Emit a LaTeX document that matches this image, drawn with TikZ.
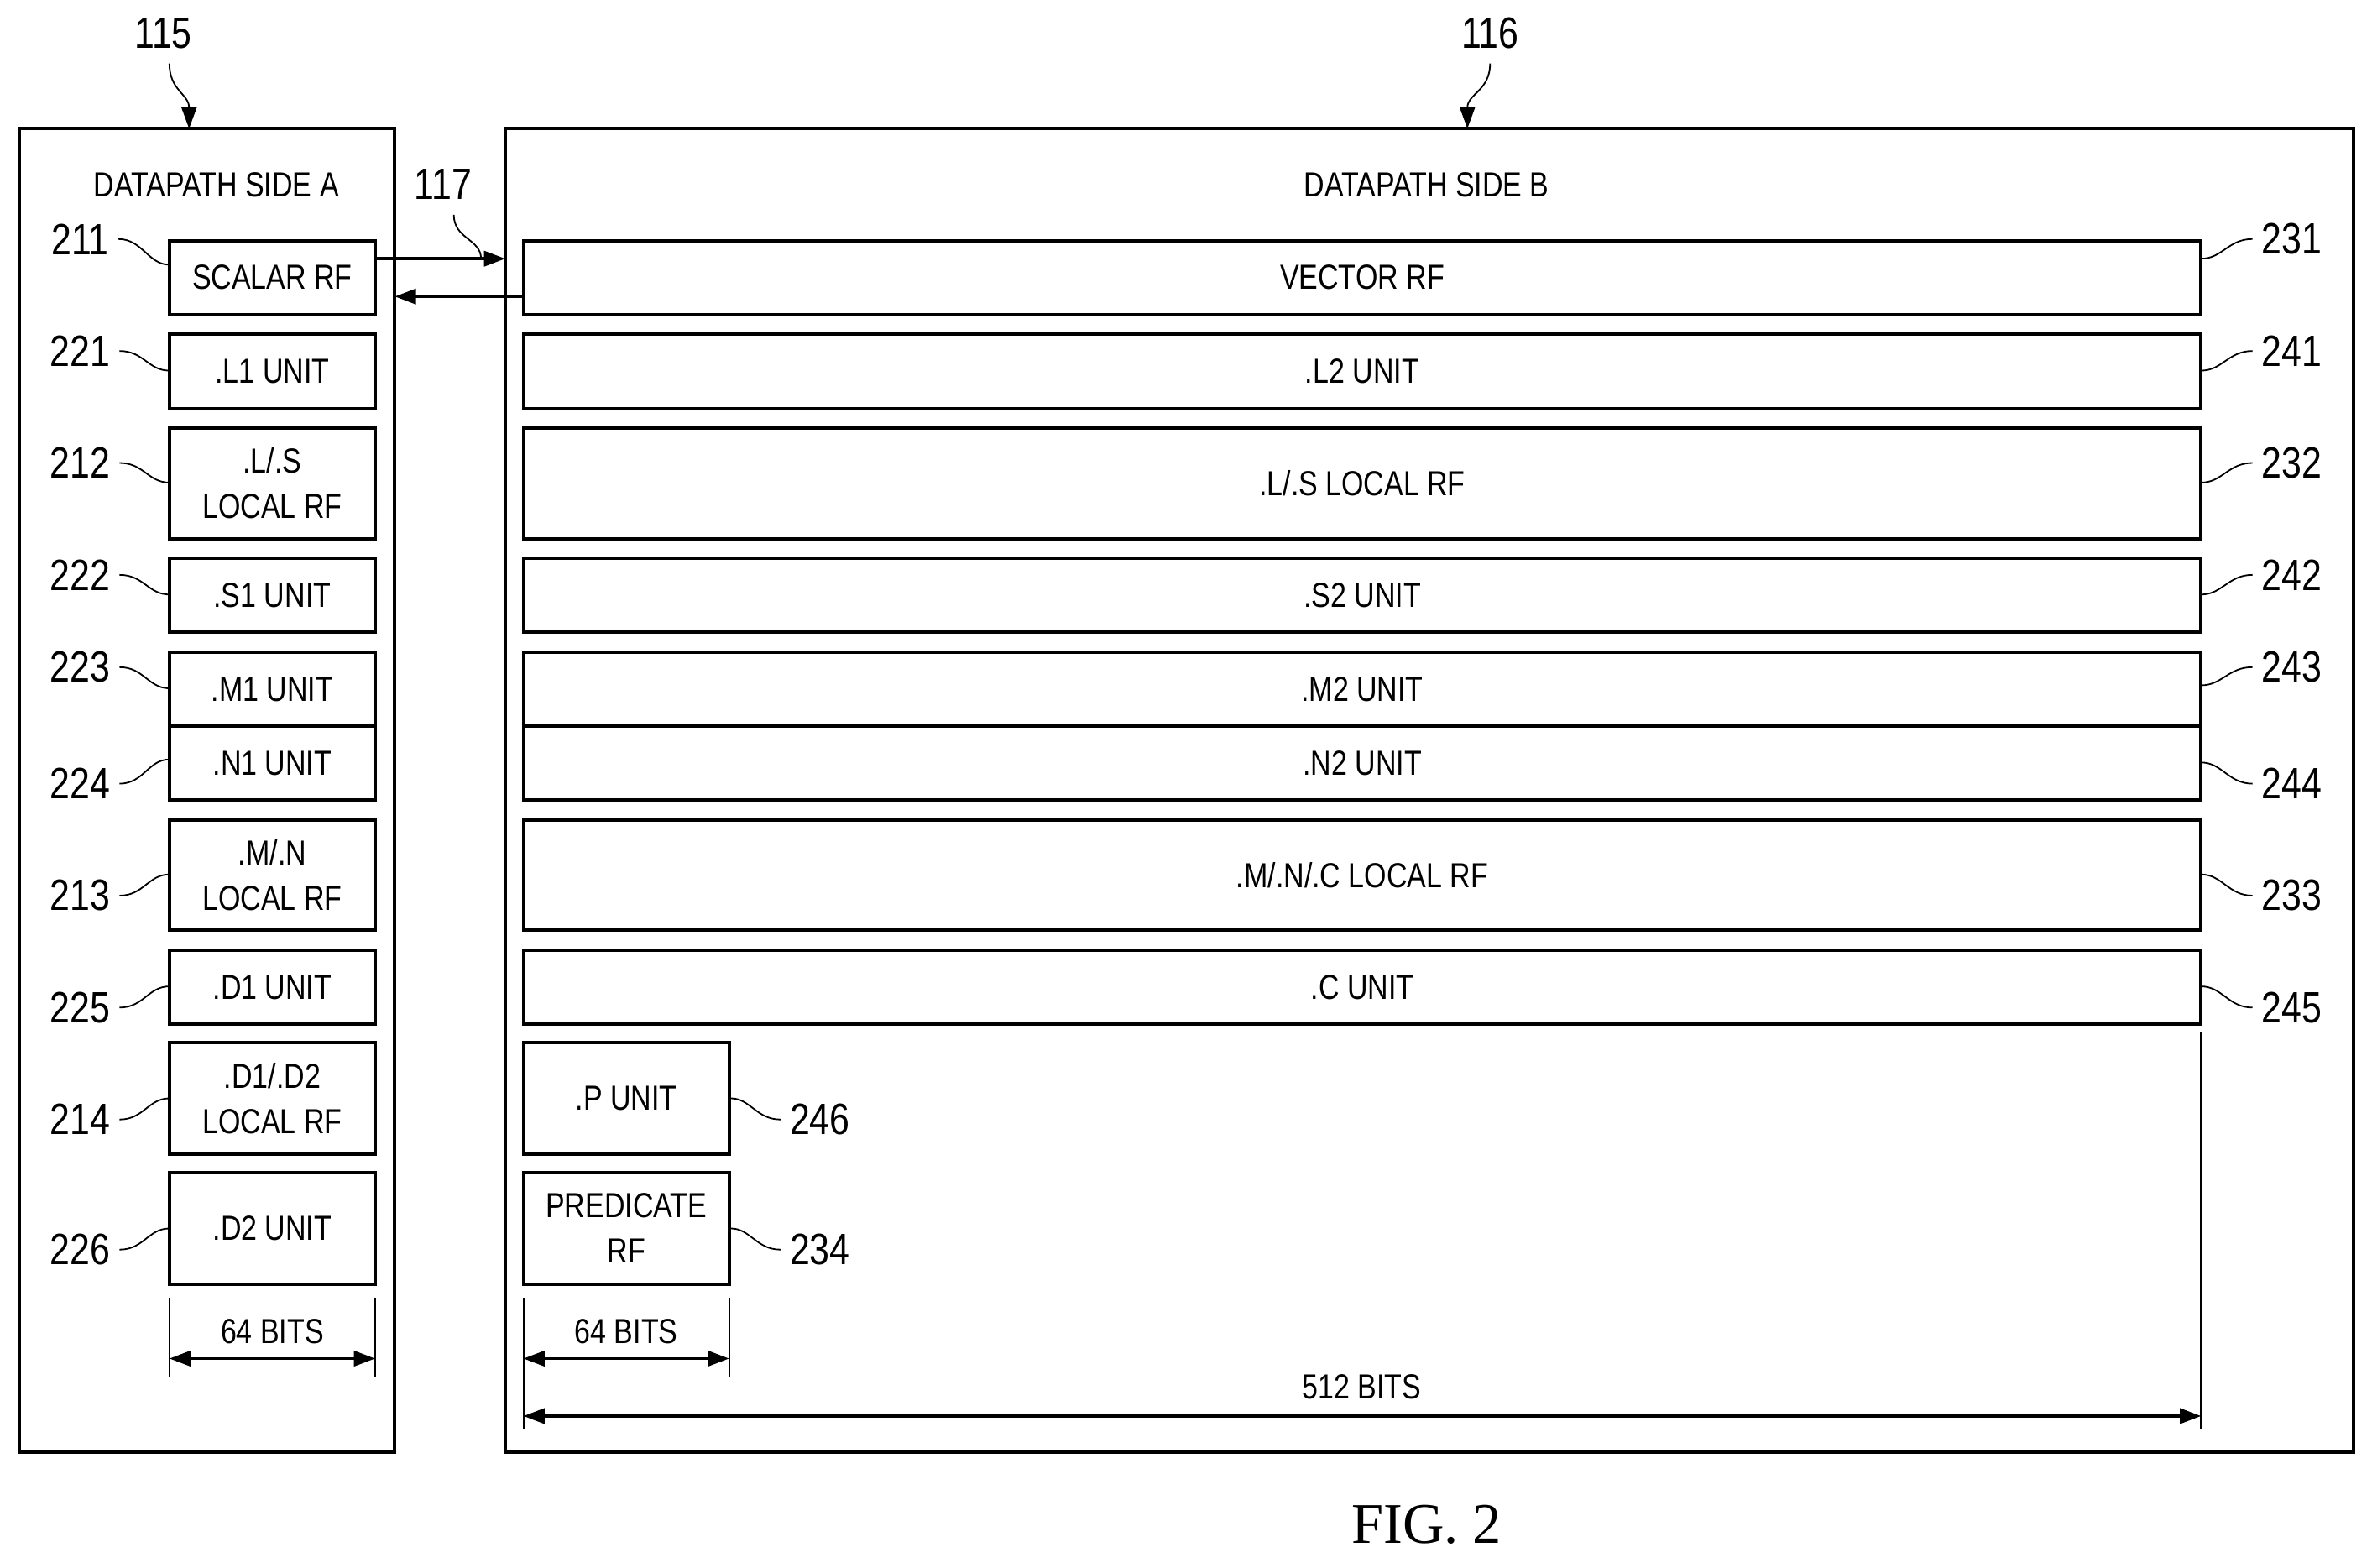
\documentclass[tikz,border=0pt]{standalone}
\usepackage{fontspec}
\setmainfont{Liberation Sans}[FakeStretch=0.82]
\newfontfamily\figfont{Liberation Serif}
\usetikzlibrary{arrows.meta}
\begin{document}
\begin{tikzpicture}[x=1pt,y=-1pt,
  box/.style={draw,line width=2.2pt},
  bx/.style={draw,line width=2.2pt,inner sep=0pt,align=center,font=\fontsize{23}{30}\selectfont},
  lab/.style={font=\fontsize{29}{30}\selectfont,inner sep=1pt},
  sq/.style={line width=1pt},
  ar/.style={line width=2pt,-{Triangle[length=14pt,width=10pt]}},
  dim/.style={line width=2pt,{Triangle[length=14pt,width=10pt]}-{Triangle[length=14pt,width=10pt]}},
  tick/.style={line width=1.2pt},
  txt/.style={font=\fontsize{23}{28}\selectfont}]
\useasboundingbox (0,0) rectangle (1568,1036);
\draw[box] (13,85) rectangle (261,960);
\draw[box] (334,85) rectangle (1556,960);
\node[lab] (n115) at (108,22) {115};
\node[lab] (n116) at (985,22) {116};
\coordinate (a115) at (125,85);
\coordinate (a116) at (970,85);
\draw[sq,-{Triangle[length=14pt,width=10pt]}] (112,42) .. controls (112,60) and (125,62) .. (a115);
\draw[sq,-{Triangle[length=14pt,width=10pt]}] (985,42) .. controls (985,60) and (970,62) .. (a116);
\node[txt] (tA) at (143,122) {DATAPATH SIDE A};
\node[txt] (tB) at (943,122) {DATAPATH SIDE B};
% left boxes
\def\L{112}
\foreach \nm/\ya/\yb/\txt in {sc/159/208/{SCALAR RF}, l1/221/270/{.L1 UNIT}, lsl/283/356/{.L/.S\\LOCAL RF}, s1/369/418/{.S1 UNIT}, m1/431/480/{.M1 UNIT}, n1/480/529/{.N1 UNIT}, mnl/542/615/{.M/.N\\LOCAL RF}, d1/628/677/{.D1 UNIT}, ddl/689/763/{.D1/.D2\\LOCAL RF}, d2/775/849/{.D2 UNIT}}
  \node[bx,minimum width=136pt,minimum height={\yb-\ya}] (\nm) at (180,{(\ya+\yb)/2}) {\txt};
\foreach \nm/\ya/\yb/\txt in {vr/159/208/{VECTOR RF}, l2/221/270/{.L2 UNIT}, lsr/283/356/{.L/.S LOCAL RF}, s2/369/418/{.S2 UNIT}, m2/431/480/{.M2 UNIT}, n2/480/529/{.N2 UNIT}, mnc/542/615/{.M/.N/.C LOCAL RF}, cu/628/677/{.C UNIT}}
  \node[bx,minimum width=1109pt,minimum height={\yb-\ya}] (\nm) at (900.5,{(\ya+\yb)/2}) {\txt};
\node[bx,minimum width=136pt,minimum height=74pt] (pu) at (414,726) {.P UNIT};
\node[bx,minimum width=136pt,minimum height=74pt] (pr) at (414,812) {PREDICATE\\RF};
% left labels
\foreach \t/\y/\by in {211/158/175, 221/232/245, 212/306/319, 222/380/393, 223/441/455, 224/518/502, 213/592/578, 225/666/652, 214/740/726, 226/826/812}{
  \node[lab] (L\t) at (53,\y) {\t};
  \draw[sq] ([xshift=5pt]L\t.east) .. controls +(16,0) and (\L-14,\by) .. (\L,\by);
}
% right labels
\foreach \t/\y/\by in {231/158/171, 241/232/245, 232/306/319, 242/380/393, 243/441/453, 244/518/504, 233/592/578, 245/666/652}{
  \node[lab] (R\t) at (1515,\y) {\t};
  \draw[sq] ([xshift=-5pt]R\t.west) .. controls +(-16,0) and (1469,\by) .. (1455,\by);
}
\node[lab] (R246) at (542,740) {246};
\draw[sq] ([xshift=-5pt]R246.west) .. controls +(-16,0) and (496,726) .. (pu.east);
\node[lab] (R234) at (542,826) {234};
\draw[sq] ([xshift=-5pt]R234.west) .. controls +(-16,0) and (496,812) .. (pr.east);
% 117 arrows
\coordinate (bA) at (261,196);
\coordinate (bB) at (334,171);
\draw[ar] (sc.east |- 0,171) -- (bB);
\draw[ar] (vr.west |- 0,196) -- (bA);
\node[lab] (L117) at (293,122) {117};
\draw[sq] (300,142) .. controls (300,158) and (318,158) .. (318,171);
% dimensions
\draw[tick] (112,858) -- (112,910); \draw[tick] (248,858) -- (248,910);
\draw[dim] (112,898) -- (248,898);
\node[txt] (b64a) at (180,880) {64 BITS};
\draw[tick] (346,858) -- (346,945);
\draw[tick] (482,858) -- (482,910);
\draw[tick] (1455,682) -- (1455,945);
\draw[dim] (346,898) -- (482,898);
\node[txt] (b64b) at (414,880) {64 BITS};
\draw[dim] (346,936) -- (1455,936);
\node[txt] (b512) at (900,917) {512 BITS};
\node[font=\figfont\fontsize{38}{40}\selectfont] (fig) at (943,1008) {FIG. 2};
\end{tikzpicture}
\end{document}
